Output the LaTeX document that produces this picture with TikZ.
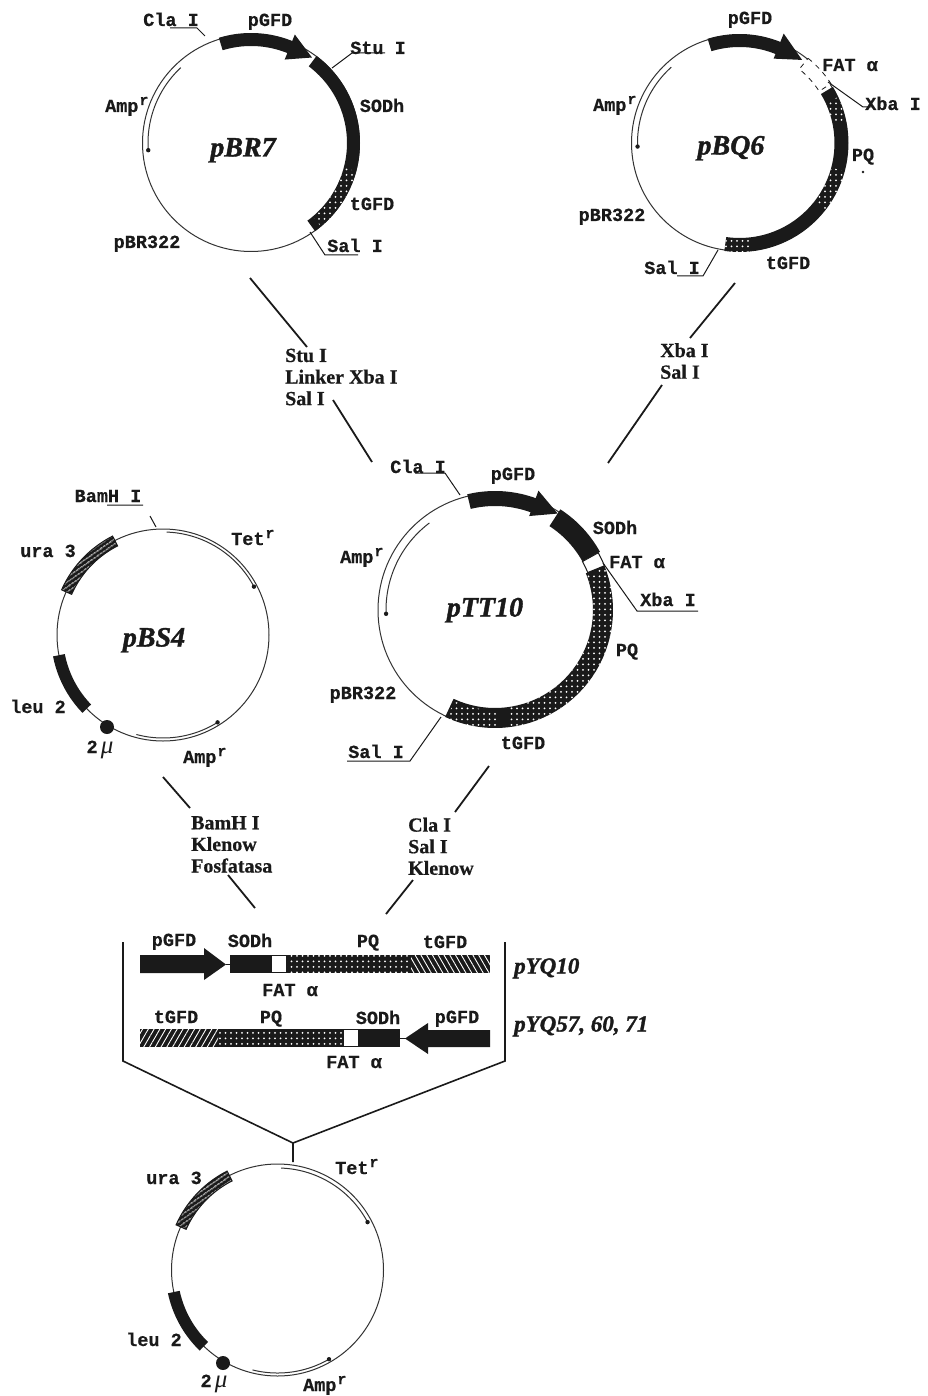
\documentclass[tikz,border=0pt]{standalone}
\usepackage{fontspec}
\usetikzlibrary{patterns.meta}
\newfontfamily\monof{Liberation Mono}[BoldFeatures={FakeBold=0.5}]
\newfontfamily\seriff{Liberation Serif}[BoldFeatures={FakeBold=0.6},BoldItalicFeatures={FakeBold=1.4}]
\definecolor{ink}{HTML}{1A1A1A}
\definecolor{soft}{HTML}{333333}
\newcommand\setctr[2]{\def\cx{#1}\def\cy{#2}}
% band: rin rout a1 a2 style
\newcommand\bandarc[5]{\path[#5]
  plot[variable=\t,domain=#3:#4,samples=40] ({\cx+(#2)*cos(\t)},{\cy-(#2)*sin(\t)})
  -- plot[variable=\t,domain=#4:#3,samples=40] ({\cx+(#1)*cos(\t)},{\cy-(#1)*sin(\t)}) -- cycle;}
% arrow: rin rout a1 abase rhin rhout atip rtip
\newcommand\arrowarc[8]{\path[solidband]
  plot[variable=\t,domain=#3:#4,samples=30] ({\cx+(#2)*cos(\t)},{\cy-(#2)*sin(\t)})
  -- ({\cx+(#6)*cos(#4)},{\cy-(#6)*sin(#4)})
  -- ({\cx+(#8)*cos(#7)},{\cy-(#8)*sin(#7)})
  -- ({\cx+(#5)*cos(#4)},{\cy-(#5)*sin(#4)})
  -- plot[variable=\t,domain=#4:#3,samples=30] ({\cx+(#1)*cos(\t)},{\cy-(#1)*sin(\t)}) -- cycle;}
% thin gene arc with end dot: r a1 a2
\newcommand\genearc[3]{\draw[genel] plot[variable=\t,domain=#2:#3,samples=40] ({\cx+(#1)*cos(\t)},{\cy-(#1)*sin(\t)});
  \fill[ink] ({\cx+(#1)*cos(#3)},{\cy-(#1)*sin(#3)}) circle (2.2);}
\newcommand\Ampr{Amp\raisebox{7pt}{\fontsize{15}{15}\selectfont\hspace{1pt}r}}
\newcommand\Tetr{Tet\raisebox{7pt}{\fontsize{15}{15}\selectfont\hspace{1pt}r}}
\newcommand\twomu{2\,{\fontsize{25}{25}\seriff\mdseries\itshape μ}}
\tikzset{
  ring/.style={circle,draw=soft,line width=1pt,inner sep=0,fill=none},
  lab/.style={font=\fontsize{18.5}{20}\monof\bfseries,text=ink,inner sep=0,text height=12pt,text depth=0pt},
  enz/.style={font=\fontsize{20}{21.6}\seriff\bfseries,text=ink,inner sep=0,align=left,anchor=north west},
  plname/.style={font=\fontsize{28}{30}\seriff\bfseries\itshape,text=ink,inner sep=0,text height=19pt,text depth=0pt},
  cname/.style={font=\fontsize{23}{24}\seriff\bfseries\itshape,text=ink,inner sep=0,anchor=west,text height=15pt,text depth=0pt},
  leader/.style={draw=ink,line width=1pt},
  step line/.style={draw=ink,line width=1.8pt},
  genel/.style={draw=soft,line width=1pt},
  solidband/.style={fill=ink},
  dotsover/.style={pattern={Dots[distance=5.5pt,radius=1pt]},pattern color=white},
  hatchover/.style={pattern={Lines[angle=60,distance=5pt,line width=.9pt]},pattern color=white},
  hatchback/.style={pattern={Lines[angle=-60,distance=5pt,line width=.9pt]},pattern color=white},
  uraover/.style={pattern={Lines[angle=35,distance=4pt,line width=1pt]},pattern color=white,draw=ink,line width=1pt},
  whiteband/.style={fill=white,draw=ink,line width=1pt},
}
\begin{document}
\begin{tikzpicture}[x=1pt,y=-1pt]
\useasboundingbox[fill=white] (0,0) rectangle (927,1396);

%% ---------- pBR7
\setctr{251}{143}
\node[ring,minimum size=217pt] (ringA) at (\cx,\cy) {};
\genearc{103}{133}{184}
\arrowarc{97}{110}{107}{68}{90}{117}{54.5}{105}
\bandarc{96}{109}{53}{-54}{solidband}
\bandarc{96}{109}{-15}{-50}{dotsover}
\node[plname] (nA) at (243,147) {pBR7};
\node[lab] (a1) at (171,20) {Cla I};
\node[lab] (a2) at (270,20) {pGFD};
\node[lab] (a3) at (378,48) {Stu I};
\node[lab] (a4) at (382,106) {SODh};
\node[lab] (a5) at (372,204) {tGFD};
\node[lab] (a6) at (355,246) {Sal I};
\node[lab] (a7) at (147,242) {pBR322};
\node[lab,anchor=west] (a8) at (105,106) {\Ampr};
\coordinate (a1p) at (170,28); \coordinate (a1q) at (197,28); \coordinate (a1r) at (205,36);
\draw[leader] (a1p) -- (a1q) -- (a1r);
\coordinate (a3p) at (385,53); \coordinate (a3q) at (352,53); \coordinate (a3r) at (332,68);
\draw[leader] (a3p) -- (a3q) -- (a3r);
\coordinate (a6p) at (358,255); \coordinate (a6q) at (325,255); \coordinate (a6r) at (310,232);
\draw[leader] (a6p) -- (a6q) -- (a6r);

%% ---------- pBQ6
\setctr{739.5}{143}
\node[ring,minimum size=216pt] (ringB) at (\cx,\cy) {};
\genearc{102}{132}{182}
\arrowarc{96}{109}{107}{68}{91}{118}{53}{104}
\bandarc{95}{109}{51}{33}{fill=white,draw=ink,line width=.8pt,dash pattern=on 5pt off 5pt}
\bandarc{95}{109}{31}{-98}{solidband}
\bandarc{95}{109}{25}{12}{dotsover}
\bandarc{95}{109}{-15}{-38}{dotsover}
\bandarc{95}{109}{-84}{-98}{dotsover}
\node[plname] (nB) at (731,145) {pBQ6};
\node[lab] (b1) at (750,18) {pGFD};
\node[lab] (b2) at (850,65) {FAT α};
\node[lab] (b3) at (893,104) {Xba I};
\node[lab] (b4) at (863,155) {PQ};
\fill[ink] (863,172) circle (1.4);
\node[lab] (b5) at (788,263) {tGFD};
\node[lab] (b6) at (672,268) {Sal I};
\node[lab] (b7) at (612,215) {pBR322};
\node[lab,anchor=west] (b8) at (593,105) {\Ampr};
\coordinate (b3p) at (828,82); \coordinate (b3q) at (863,107); \coordinate (b3r) at (872,107);
\draw[leader] (b3p) -- (b3q) -- (b3r);
\coordinate (b6p) at (677,276); \coordinate (b6q) at (703,276); \coordinate (b6r) at (718,250);
\draw[leader] (b6p) -- (b6q) -- (b6r);

%% ---------- pTT10
\setctr{495}{610}
\node[ring,minimum size=234pt] (ringC) at (\cx,\cy) {};
\genearc{109}{127}{182}
\arrowarc{104}{119}{103.5}{70}{100}{127}{57}{115}
\bandarc{100}{120}{57}{29}{solidband}
\bandarc{100}{118}{29}{22}{whiteband}
\bandarc{98}{118}{22}{-115}{solidband}
\bandarc{98}{118}{21}{-83}{dotsover}
\bandarc{100}{120}{-88}{-114}{dotsover}
\node[plname] (nC) at (485,607) {pTT10};
\node[lab] (c1) at (418,467) {Cla I};
\node[lab] (c2) at (513,474) {pGFD};
\node[lab] (c3) at (615,528) {SODh};
\node[lab] (c4) at (637,562) {FAT α};
\node[lab] (c5) at (668,600) {Xba I};
\node[lab] (c6) at (627,650) {PQ};
\node[lab] (c7) at (523,743) {tGFD};
\node[lab] (c8) at (363,693) {pBR322};
\node[lab] (c9) at (376,752) {Sal I};
\node[lab,anchor=west] (c10) at (340,557) {\Ampr};
\coordinate (c1p) at (415,473); \coordinate (c1q) at (445,473); \coordinate (c1r) at (460,495);
\draw[leader] (c1p) -- (c1q) -- (c1r);
\coordinate (c5p) at (698,611); \coordinate (c5q) at (637,611); \coordinate (c5r) at (603,563);
\draw[leader] (c5p) -- (c5q) -- (c5r);
\coordinate (c9p) at (347,761); \coordinate (c9q) at (410,761); \coordinate (c9r) at (441,717);
\draw[leader] (c9p) -- (c9q) -- (c9r);

%% ---------- pBS4
\setctr{163}{635}
\node[ring,minimum size=212pt] (ringD) at (\cx,\cy) {};
\genearc{103}{88}{28}
\genearc{103}{255}{302}
\bandarc{100}{111}{117}{156}{fill=ink}
\bandarc{100}{111}{117}{156}{uraover}
\bandarc{100}{112}{191}{224}{solidband}
\fill[ink] (107,727) circle (7);
\node[plname] (nD) at (154,637) {pBS4};
\node[lab] (d1) at (108,496) {BamH I};
\node[lab,anchor=west] (d2) at (231,539) {\Tetr};
\node[lab] (d3) at (48,551) {ura 3};
\node[lab] (d4) at (38,707) {leu 2};
\node[lab] (d5) at (100,747) {\twomu};
\node[lab,anchor=west] (d6) at (183,757) {\Ampr};
\coordinate (d1p) at (107,505); \coordinate (d1q) at (143,505); \coordinate (d1r) at (150,516); \coordinate (d1s) at (156,527);
\draw[leader] (d1p) -- (d1q) (d1r) -- (d1s);

%% ---------- final plasmid
\setctr{277.5}{1270}
\node[ring,minimum size=212pt] (ringE) at (\cx,\cy) {};
\genearc{102}{88}{28}
\genearc{103}{256}{300}
\bandarc{100}{111}{117}{156}{fill=ink}
\bandarc{100}{111}{117}{156}{uraover}
\bandarc{100}{112}{192}{226}{solidband}
\fill[ink] (223,1363) circle (7);
\node[lab,anchor=west] (e1) at (335,1168) {\Tetr};
\node[lab] (e2) at (174,1178) {ura 3};
\node[lab] (e3) at (154,1340) {leu 2};
\node[lab] (e4) at (214,1381) {\twomu};
\node[lab,anchor=west] (e5) at (303,1385) {\Ampr};

%% ---------- enzyme labels
\node[enz] (s1) at (285,348.5) {Stu I\\Linker Xba I\\Sal I};
\node[enz] (s2) at (660,343) {Xba I\\Sal I};
\node[enz] (s3) at (191,816) {BamH I\\Klenow\\Fosfatasa};
\node[enz] (s4) at (408,817.5) {Cla I\\Sal I\\Klenow};

%% ---------- step lines
\coordinate (l1a) at (250,278); \coordinate (l1b) at (307,347);
\coordinate (l1c) at (333,400); \coordinate (l1d) at (372,462);
\draw[step line] (l1a) -- (l1b) (l1c) -- (l1d);
\coordinate (l2a) at (735,283); \coordinate (l2b) at (690,338);
\coordinate (l2c) at (662,385); \coordinate (l2d) at (608,463);
\draw[step line] (l2a) -- (l2b) (l2c) -- (l2d);
\coordinate (l3a) at (163,777); \coordinate (l3b) at (190,808);
\coordinate (l3c) at (228,875); \coordinate (l3d) at (255,908);
\draw[step line] (l3a) -- (l3b) (l3c) -- (l3d);
\coordinate (l4a) at (489,766); \coordinate (l4b) at (455,812);
\coordinate (l4c) at (413,880); \coordinate (l4d) at (386,914);
\draw[step line] (l4a) -- (l4b) (l4c) -- (l4d);

%% ---------- linear constructs
\path[solidband] (140,955) -- (204,955) -- (204,948) -- (226,964.5) -- (204,980) -- (204,973) -- (140,973) -- cycle;
\draw[leader] (226,964.5) -- (231,964.5);
\fill[ink] (230,955) rectangle (490,973);
\path[dotsover] (287,955) rectangle (411,973);
\path[hatchback] (411,955) rectangle (490,973);
\fill[white] (272,956) rectangle (286,972);

\fill[ink] (140,1029) rectangle (400,1047);
\path[hatchover] (140,1029) rectangle (218,1047);
\path[dotsover] (218,1029) rectangle (344,1047);
\fill[white] (344,1030) rectangle (358,1046);
\draw[leader] (400,1038) -- (406,1038);
\path[solidband] (490,1030) -- (428,1030) -- (428,1023) -- (405,1038.5) -- (428,1054) -- (428,1047) -- (490,1047) -- cycle;

\node[lab] (f1) at (174,940) {pGFD};
\node[lab] (f2) at (250,941) {SODh};
\node[lab] (f3) at (368,941) {PQ};
\node[lab] (f4) at (445,942) {tGFD};
\node[lab] (f5) at (290,990) {FAT α};
\node[lab] (g1) at (176,1017) {tGFD};
\node[lab] (g2) at (271,1017) {PQ};
\node[lab] (g3) at (378,1018) {SODh};
\node[lab] (g4) at (457,1017) {pGFD};
\node[lab] (g5) at (354,1062) {FAT α};
\node[cname] (h1) at (514,966) {pYQ10};
\node[cname] (h2) at (514,1024) {pYQ57, 60, 71};

%% ---------- bracket
\coordinate (bA) at (123,942); \coordinate (bB) at (123,1061); \coordinate (bC) at (293,1143);
\coordinate (bD) at (505,1061); \coordinate (bE) at (505,942); \coordinate (bF) at (293,1162);
\draw[step line,line width=1.6pt] (bA) -- (bB) -- (bC) -- (bD) -- (bE) (bC) -- (bF);
\end{tikzpicture}
\end{document}
